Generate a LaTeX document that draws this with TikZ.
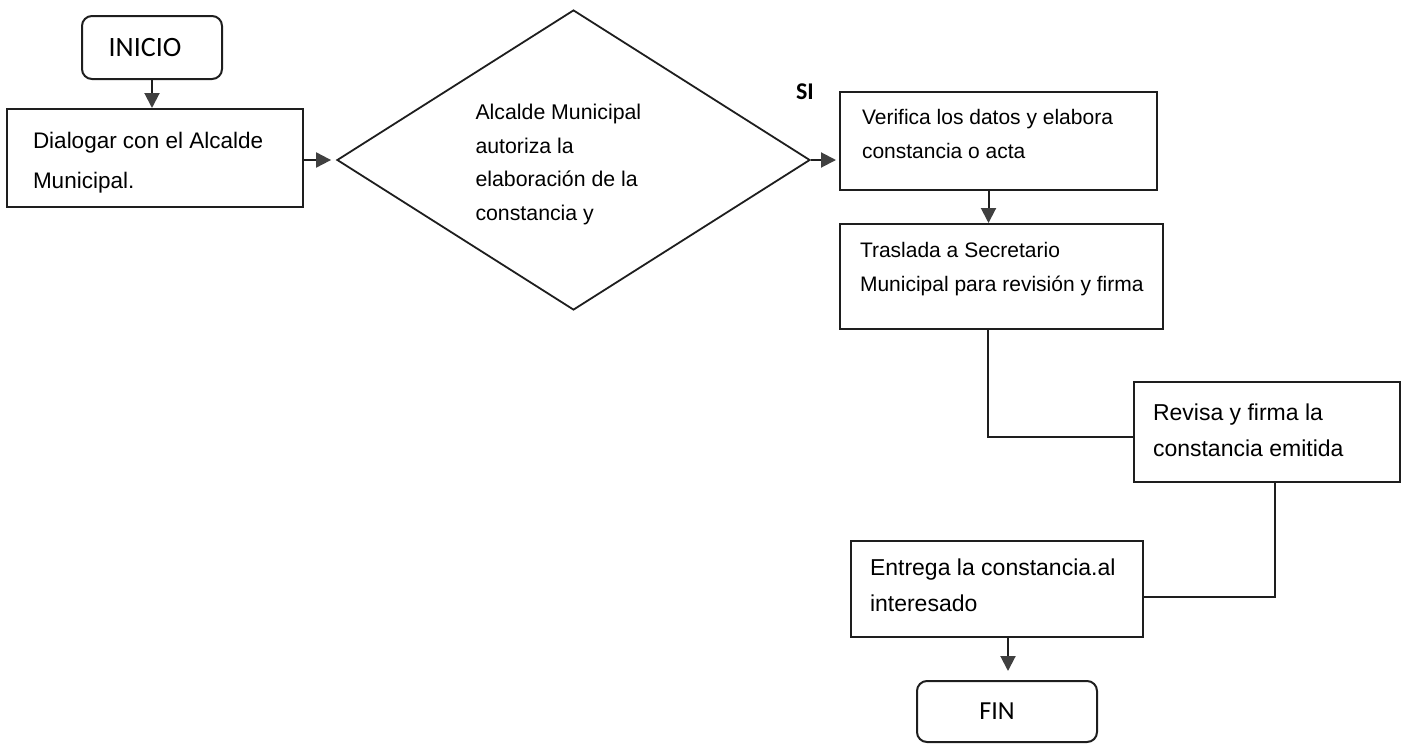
\documentclass[tikz,border=0pt]{standalone}
\usepackage{fontspec}
\setmainfont{Liberation Sans}
\newfontfamily\calib{Carlito}
\usetikzlibrary{shapes.geometric,arrows.meta}
\definecolor{ink}{HTML}{1E1E1E}
\definecolor{tipgray}{HTML}{404040}
\newcommand{\boxtxt}[5]{\parbox[c][#2][t]{#1}{\raggedright\leftskip=#3\relax\vspace*{#4}\strut #5}}
\begin{document}
\begin{tikzpicture}[x=1pt,y=-1pt,
  proc/.style={draw=ink, line width=2pt, rectangle, inner sep=0pt},
  term/.style={draw=ink, line width=2pt, rectangle, rounded corners=10pt, inner sep=0pt},
  conn/.style={draw=ink, line width=2pt},
  arr/.style={conn, -{Triangle[length=15pt,width=15pt,color=tipgray]}}]
\useasboundingbox (0,0) rectangle (1403,744);

\node[term, minimum width=140pt, minimum height=63pt, font=\calib\fontsize{28}{30}\selectfont] (inicio) at (152,47.5) {INICIO\hspace*{14pt}};

\node[proc, font=\fontsize{22.5}{40}\selectfont] (dialogar) at (155,158)
  {\boxtxt{296pt}{98pt}{26pt}{11pt}{Dialogar con el Alcalde\\Municipal.}};

\node[draw=ink, line width=1.8pt, diamond, aspect=1.577, inner sep=0pt, minimum width=473pt, minimum height=300pt, font=\fontsize{21.3}{33.7}\selectfont] (dia) at (573.5,160)
  {\boxtxt{196pt}{136pt}{0pt}{3.9pt}{Alcalde Municipal\\autoriza la\\elaboración de la\\constancia y}};

\node[font=\calib\bfseries\fontsize{24}{26}\selectfont, inner sep=0pt] (si) at (805,92) {SI};

\node[proc, font=\fontsize{21}{34.5}\selectfont] (verifica) at (998.5,141)
  {\boxtxt{317pt}{98pt}{22pt}{8.2pt}{Verifica los datos y elabora\\constancia o acta}};

\node[proc, font=\fontsize{21}{34.5}\selectfont] (traslada) at (1001.5,276.5)
  {\boxtxt{323pt}{105pt}{20pt}{9.2pt}{Traslada a Secretario\\Municipal para revisión y firma}};

\node[proc, font=\fontsize{23}{36.5}\selectfont] (revisa) at (1267,432)
  {\boxtxt{266pt}{100pt}{19pt}{12.5pt}{Revisa y firma la\\constancia emitida}};

\node[proc, font=\fontsize{23}{36}\selectfont] (entrega) at (997,589)
  {\boxtxt{292pt}{96pt}{19pt}{8.8pt}{Entrega la constancia.al\\interesado}};

\node[term, minimum width=180pt, minimum height=61pt, font=\calib\fontsize{26}{28}\selectfont] (fin) at (1007,711.5) {FIN\hspace*{20pt}};

% connectors
\draw[arr] (inicio.south) -- (inicio.south |- dialogar.north);
\draw[arr, shorten >=5pt] (dialogar.east |- dia.west) -- (dia.west);
\draw[arr, shorten >=3pt] (dia.east) -- (dia.east -| verifica.west);
\draw[arr] ([xshift=-10pt]verifica.south) -- ([xshift=-10pt]verifica.south |- traslada.north);
\draw[conn] ([xshift=-13.5pt]traslada.south) |- ([yshift=-5pt]revisa.west);
\draw[conn] ([xshift=8pt]revisa.south) |- ([yshift=-8pt]entrega.east);
\draw[arr, shorten >=9pt] ([xshift=11pt]entrega.south) -- ([xshift=11pt]entrega.south |- fin.north);
\end{tikzpicture}
\end{document}
